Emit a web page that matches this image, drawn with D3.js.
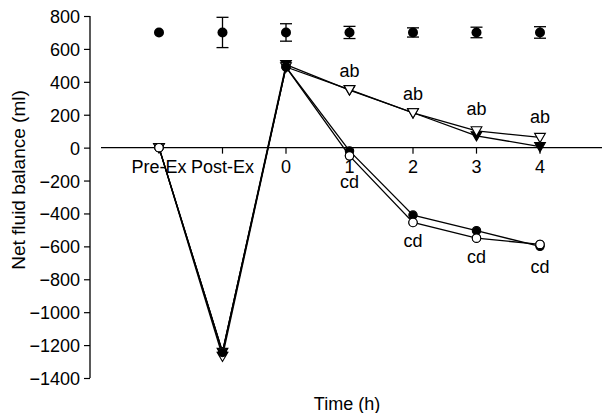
<!DOCTYPE html>
<html>
<head>
<meta charset="utf-8">
<script src="https://cdn.jsdelivr.net/npm/d3@7"></script>
<style>
  body { margin: 0; background: #fff; }
  text { font-family: "Liberation Sans", Arial, sans-serif; fill: #000; }
</style>
</head>
<body>
<div id="chart"></div>
<script>
// categories along the time axis
const times = ["Pre-Ex", "Post-Ex", "0", "1", "2", "3", "4"];
const tickedTimes = ["Post-Ex", "0", "1", "2", "3", "4"];
const yTicks = [800, 600, 400, 200, 0, -200, -400, -600, -800, -1000, -1200, -1400];

// top reference row (mean and error)
const topMean = [700, 700, 700, 700, 700, 700, 700];
const topErr = [0, 92, 53, 37, 28, 32, 35];

// series
const filledCircle = [0, -1245, 490, -20, -410, -505, -600];
const openCircle = [0, -1240, 490, -50, -455, -550, -588];
const filledTri = [0, -1245, 505, 350, 212, 72, 6];
const openTri = [0, -1268, 490, 352, 211, 102, 62];

// significance labels (value at text baseline)
const abLabels = ["1", "2", "3", "4"];
const abValues = [432, 292, 200, 152];
const cdLabels = ["1", "2", "3", "4"];
const cdValues = [-243, -602, -699, -760];

const width = 602, height = 413;
const margin = { left: 90 };
const fs = 18;

const svg = d3.select("#chart").append("svg")
  .attr("width", width).attr("height", height);

const y = d3.scaleLinear().domain([-1400, 800]).range([378, 16]);
const x = d3.scalePoint().domain(times).range([159, 540]);

// y axis
const yAxis = svg.append("g").attr("transform", `translate(${margin.left},0)`)
  .call(d3.axisLeft(y).tickValues(yTicks).tickSize(6).tickPadding(4)
    .tickFormat(d => d < 0 ? "\u2212" + Math.abs(d) : d));
yAxis.select(".domain").attr("stroke", "#000").attr("stroke-width", 1.3)
  .attr("d", `M0,${y(800)}V${y(-1400)}`);
yAxis.selectAll(".tick line").attr("stroke-width", 1.2);
yAxis.selectAll("text").attr("font-size", fs).attr("dy", "0.36em")
  .attr("font-family", "Liberation Sans, Arial, sans-serif");

// zero line / x axis
svg.append("line")
  .attr("x1", 101).attr("x2", width).attr("y1", y(0)).attr("y2", y(0))
  .attr("stroke", "#000").attr("stroke-width", 1.2);
svg.selectAll(".xtick").data(tickedTimes).join("line")
  .attr("x1", d => x(d)).attr("x2", d => x(d))
  .attr("y1", y(0)).attr("y2", y(0) + 6)
  .attr("stroke", "#000").attr("stroke-width", 1.2);
svg.selectAll(".xlab").data(times).join("text")
  .attr("x", d => x(d)).attr("y", y(0) + 25)
  .attr("text-anchor", "middle").attr("font-size", fs)
  .text(d => d);

// axis titles
svg.append("text")
  .attr("transform", `translate(25,180) rotate(-90)`)
  .attr("text-anchor", "middle").attr("font-size", 19)
  .text("Net fluid balance (ml)");
svg.append("text")
  .attr("x", 347).attr("y", 410)
  .attr("text-anchor", "middle").attr("font-size", fs)
  .text("Time (h)");

// lines
const line = d3.line().x((d, i) => x(times[i])).y(d => y(d));
[filledCircle, openCircle, filledTri, openTri].forEach(s => {
  svg.append("path").attr("d", line(s))
    .attr("fill", "none").attr("stroke", "#000").attr("stroke-width", 1.3);
});

const tri = d3.symbol().type(d3.symbolTriangle).size(50);
function drawTri(data, fill) {
  svg.selectAll(null).data(data).join("path")
    .attr("d", tri)
    .attr("transform", (d, i) => `translate(${x(times[i])},${y(d) - 1}) rotate(180)`)
    .attr("fill", fill).attr("stroke", "#000").attr("stroke-width", 1.1);
}
function drawCircle(data, fill) {
  svg.selectAll(null).data(data).join("circle")
    .attr("cx", (d, i) => x(times[i])).attr("cy", d => y(d)).attr("r", 4.2)
    .attr("fill", fill).attr("stroke", "#000").attr("stroke-width", 1.1);
}
drawTri(filledTri, "#000");
drawTri(openTri, "#fff");
drawCircle(openCircle, "#fff");
drawCircle(filledCircle, "#000");
// keep the open circles on top from 1 h on, as in the figure
svg.selectAll(null).data(openCircle.slice(3)).join("circle")
  .attr("cx", (d, i) => x(times[i + 3])).attr("cy", d => y(d)).attr("r", 4.2)
  .attr("fill", "#fff").attr("stroke", "#000").attr("stroke-width", 1.1);
// open circle at Pre-Ex sits on top
svg.append("circle").attr("cx", x(times[0])).attr("cy", y(openCircle[0])).attr("r", 4.2)
  .attr("fill", "#fff").attr("stroke", "#000").attr("stroke-width", 1.1);

// top row with error bars
const errG = svg.append("g");
topMean.forEach((m, i) => {
  const cx = x(times[i]);
  if (topErr[i] > 0) {
    errG.append("line").attr("x1", cx).attr("x2", cx)
      .attr("y1", y(m + topErr[i])).attr("y2", y(m - topErr[i]))
      .attr("stroke", "#000").attr("stroke-width", 1.3);
    [m + topErr[i], m - topErr[i]].forEach(v => {
      errG.append("line").attr("x1", cx - 6).attr("x2", cx + 6)
        .attr("y1", y(v)).attr("y2", y(v))
        .attr("stroke", "#000").attr("stroke-width", 1.3);
    });
  }
  errG.append("circle").attr("cx", cx).attr("cy", y(m)).attr("r", 5).attr("fill", "#000");
});

// significance letters
svg.selectAll(".ab").data(abLabels).join("text")
  .attr("x", d => x(d)).attr("y", (d, i) => y(abValues[i]))
  .attr("text-anchor", "middle").attr("font-size", fs).text("ab");
svg.selectAll(".cd").data(cdLabels).join("text")
  .attr("x", d => x(d)).attr("y", (d, i) => y(cdValues[i]))
  .attr("text-anchor", "middle").attr("font-size", fs).text("cd");
</script>
</body>
</html>
